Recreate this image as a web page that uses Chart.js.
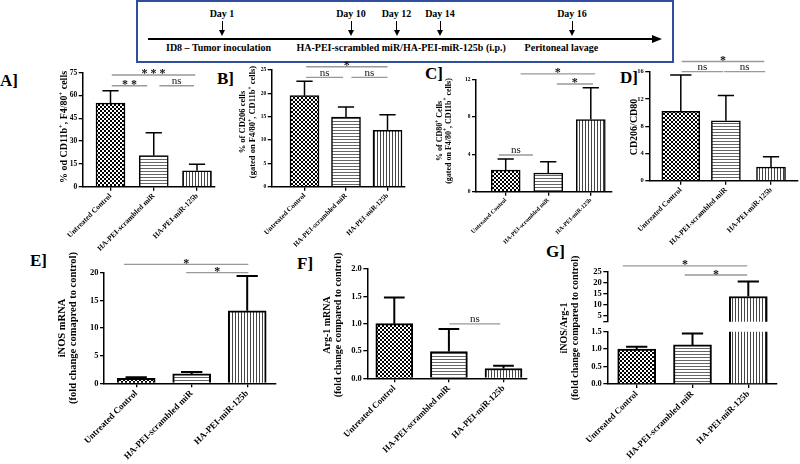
<!DOCTYPE html>
<html><head><meta charset="utf-8">
<script src="https://cdn.jsdelivr.net/npm/chart.js@4.4.1/dist/chart.umd.min.js"></script>
<style>
html,body{margin:0;padding:0;background:#fff;}
body{position:relative;width:800px;height:464px;overflow:hidden;font-family:"Liberation Serif","Times New Roman",serif;font-weight:bold;color:#000;}
canvas{position:absolute;}
.abs{position:absolute;white-space:nowrap;}
.letter{font-size:17px;line-height:17px;}
.tl{font-size:10px;line-height:12px;}
</style></head><body>
<script>
// ---------------- DATA ----------------
const categories = ["Untreated Control", "HA-PEI-scrambled miR", "HA-PEI-miR-125b"];

const aValues = [55.0, 20.5, 10.5];
const aErrors = [8.2, 15.0, 4.2];
const aTicks  = [0, 15, 30, 45, 60, 75];

const bValues = [19.5, 14.9, 12.1];
const bErrors = [3.1, 2.2, 3.3];
const bTicks  = [0, 5, 10, 15, 20, 25];

const cValues = [2.3, 2.0, 7.7];
const cErrors = [1.2, 1.2, 3.4];
const cTicks  = [0, 4, 8, 12];

const dValues = [10.2, 8.8, 2.0];
const dErrors = [5.3, 3.7, 1.5];
const dTicks  = [0, 4, 8, 12, 16];

const eValues = [0.9, 1.7, 13.1];
const eErrors = [0.18, 0.35, 6.3];
const eTicks  = [0, 5, 10, 15, 20];

const fValues = [1.0, 0.49, 0.18];
const fErrors = [0.48, 0.41, 0.05];
const fTicks  = [0, 0.5, 1.0, 1.5, 2.0];

const gValues = [1.0, 1.12, 13.8];
const gErrors = [0.07, 0.33, 6.8];
const gLowerTicks = [0, 0.5, 1.0, 1.5];
const gUpperTicks = [5, 10, 15, 20, 25];

const timelineDays   = ["Day 1", "Day 10", "Day 12", "Day 14", "Day 16"];
const timelinePhases = ["ID8 \u2013 Tumor inoculation", "HA-PEI-scrambled miR/HA-PEI-miR-125b (i.p.)", "Peritoneal lavage"];

// ---------------- LAYOUT ----------------
const dayX = [222, 351, 396.5, 440, 572];
const phaseX = [166, 296.5, 524.6];

function addDiv(cls, text, style) {
  const d = document.createElement('div');
  d.className = 'abs ' + cls; d.textContent = text;
  Object.assign(d.style, style); document.body.appendChild(d); return d;
}
// timeline box
addDiv('', '', {left:'136px', top:'0px', width:'538px', height:'63px', boxSizing:'border-box', border:'2px solid #2f4e9e'});
const tlY = 38.5;
addDiv('', '', {left:'148px', top:(tlY-1)+'px', width:'506px', height:'2px', background:'#000'});
addDiv('', '', {left:'652px', top:(tlY-4)+'px', width:'0', height:'0', borderLeft:'10px solid #000', borderTop:'4px solid transparent', borderBottom:'4px solid transparent'});
timelineDays.forEach((t, i) => {
  const x = dayX[i];
  addDiv('tl', t, {left:x+'px', top:'8px', transform:'translateX(-50%)'});
  addDiv('', '', {left:(x-0.5)+'px', top:'21px', width:'1px', height:'10px', background:'#000'});
  addDiv('', '', {left:(x-3)+'px', top:'30px', width:'0', height:'0', borderTop:'6px solid #000', borderLeft:'3px solid transparent', borderRight:'3px solid transparent'});
});
timelinePhases.forEach((t, i) => addDiv('tl', t, {left:phaseX[i]+'px', top:'42px'}));

// panel letters
[["A]",0,72],["B]",217,70],["C]",425,65],["D]",620,69],["E]",30,252],["F]",297,255],["G]",546,243]]
  .forEach(([t,x,y]) => addDiv('letter', t, {left:x+'px', top:y+'px'}));

// patterns
const patterns = (() => {
  const mk = (w, h, draw) => {
    const t = document.createElement('canvas'); t.width = w; t.height = h;
    const c = t.getContext('2d'); c.fillStyle = '#fff'; c.fillRect(0,0,w,h); draw(c);
    return c.createPattern(t, 'repeat');
  };
  return [
    mk(4,4,c=>{c.fillStyle='#000'; c.fillRect(0,0,2,2); c.fillRect(2,2,2,2);}),
    mk(4,3,c=>{c.fillStyle='#666'; c.fillRect(0,0,4,1);}),
    mk(3,4,c=>{c.fillStyle='#444'; c.fillRect(0,0,1,4);})
  ];
})();

const FAM = '"Liberation Serif", "Times New Roman", serif';

function drawRich(ctx, text, x, y, size) {
  const segs = [];
  text.split(/(\{[^}]*\})/).forEach(t => {
    if (!t) return;
    if (t[0] === '{') segs.push({t:t.slice(1,-1), sup:true}); else segs.push({t, sup:false});
  });
  const f = s => `bold ${s}px ${FAM}`;
  let total = 0;
  segs.forEach(s => { ctx.font = f(s.sup ? size*0.65 : size); s.w = ctx.measureText(s.t).width; total += s.w; });
  ctx.save(); ctx.translate(x, y); ctx.rotate(-Math.PI/2);
  ctx.textBaseline = 'middle'; ctx.textAlign = 'left'; ctx.fillStyle = '#000';
  let cur = -total/2;
  segs.forEach(s => { ctx.font = f(s.sup ? size*0.65 : size); ctx.fillText(s.t, cur, s.sup ? -size*0.3 : 0); cur += s.w; });
  ctx.restore();
}

const errorBars = {
  id: 'errorBars',
  afterDatasetsDraw(chart) {
    const {ctx, chartArea:a} = chart; const y = chart.scales.y;
    ctx.save();
    ctx.beginPath(); ctx.rect(a.left, a.top - 1, a.right - a.left, a.bottom - a.top + 1); ctx.clip();
    ctx.strokeStyle = '#000';
    chart.data.datasets.forEach((ds, di) => {
      const bar = chart.getDatasetMeta(di).data[0]; if (!bar) return;
      const v = ds.data[0].y, e = ds.err;
      const y0 = y.getPixelForValue(v), y1 = y.getPixelForValue(v + e);
      const hw = bar.width * 0.28;
      ctx.lineWidth = ds.borderWidth;
      ctx.beginPath(); ctx.moveTo(bar.x, y0); ctx.lineTo(bar.x, y1);
      ctx.moveTo(bar.x - hw, y1); ctx.lineTo(bar.x + hw, y1); ctx.stroke();
    });
    ctx.restore();
  }
};

function makeAnnot(p) {
  return {
    id: 'annot',
    afterDraw(chart) {
      const ctx = chart.ctx, xs = chart.scales.x, ys = chart.scales.y;
      const [cx, cy] = p.canvas;
      ctx.save();
      (p.sig || []).forEach(s => {
        const x1 = xs.getPixelForValue(s.x1), x2 = xs.getPixelForValue(s.x2), yy = ys.getPixelForValue(s.y);
        ctx.strokeStyle = '#999'; ctx.lineWidth = 1.3;
        ctx.beginPath(); ctx.moveTo(x1, yy); ctx.lineTo(x2, yy); ctx.stroke();
        const star = s.text.includes('*');
        ctx.font = star ? `bold 12px ${FAM}` : `11px ${FAM}`;
        ctx.fillStyle = '#111'; ctx.textAlign = 'center'; ctx.textBaseline = 'alphabetic';
        ctx.fillText(s.text, (x1 + x2)/2, star ? yy + 2.5 : yy - 1.5);
      });
      if (p.title) p.title.lines.forEach((t, i) => drawRich(ctx, t, p.title.x[i] - cx, p.title.cy - cy, p.title.size));
      ctx.restore();
    }
  };
}

function makeChart(p) {
  const [cx, cy, cw, ch] = p.canvas;
  const [L, T, R, B] = p.area;
  const cv = document.createElement('canvas');
  cv.width = cw; cv.height = ch;
  Object.assign(cv.style, {left:cx+'px', top:cy+'px', width:cw+'px', height:ch+'px'});
  document.body.appendChild(cv);
  const s = (p.c2 - p.c0) / 2;
  const xmin = -(p.c0 - L) / s, xmax = 2 + (R - p.c2) / s;
  const font = sz => ({family: FAM, size: sz, weight: 'bold'});
  const datasets = p.values.map((v, i) => ({
    data: [{x: i, y: v}], err: p.errors[i],
    backgroundColor: patterns[i], borderColor: '#000', borderWidth: p.bw,
    barThickness: Array.isArray(p.barW) ? p.barW[i] : p.barW,
    grouped: false, clip: 0, borderSkipped: 'start'
  }));
  const xScale = {
    type: 'linear', min: xmin, max: xmax, offset: false, display: !p.hideX,
    grid: {offset: false, drawOnChartArea: false, drawTicks: true, tickLength: 4, color: '#000', lineWidth: 1.3},
    border: {display: true, color: '#000', width: 1.5},
    ticks: {autoSkip: false, minRotation: 45, maxRotation: 45, padding: 1, color: '#000', font: font(p.xSize || 8),
            callback: v => categories[v] ?? ''},
    afterBuildTicks: sc => { sc.ticks = categories.map((c, i) => ({value: i})); }
  };
  if (!p.hideX) xScale.afterFit = sc => { sc.height = cy + ch - B; };
  return new Chart(cv, {
    type: 'bar',
    data: {datasets},
    options: {
      responsive: false, animation: false, devicePixelRatio: 1, events: [],
      layout: {padding: {left: 0, top: T - cy, right: cx + cw - R, bottom: p.hideX ? cy + ch - B : 0}},
      plugins: {legend: {display: false}, tooltip: {enabled: false}},
      scales: {
        x: xScale,
        y: {
          type: 'linear', min: p.ymin || 0, max: p.ymax,
          grid: {drawOnChartArea: false, drawTicks: true, tickLength: 4, color: '#000', lineWidth: 1.3},
          border: {display: true, color: '#000', width: 1.5},
          ticks: {autoSkip: false, color: '#000', padding: 1.5, font: font(p.tickSize),
                  callback: v => p.ticks.includes(v) ? v.toFixed(p.dec || 0) : ''},
          afterBuildTicks: sc => { sc.ticks = (p.ymin ? [{value: p.ymin}] : []).concat(p.ticks.map(v => ({value: v}))); },
          afterFit: sc => { sc.width = L - cx; }
        }
      }
    },
    plugins: [errorBars, makeAnnot(p)]
  });
}

const panels = [
  {values:aValues, errors:aErrors, ticks:aTicks, ymax:75, canvas:[18,60,205,200], area:[82.7,72.7,215,186.7],
   c0:110.5, c2:197, barW:29, bw:1.5, tickSize:7.5, xSize:7.5,
   title:{lines:["% od CD11b{+}, F4/80{+} cells"], x:[64], cy:127, size:10},
   sig:[{x1:0.03,x2:1.96,y:73.5,text:'* * *'},{x1:0.03,x2:0.85,y:66.4,text:'* *'},{x1:1.13,x2:1.93,y:66.4,text:'ns'}]},
  {values:bValues, errors:bErrors, ticks:bTicks, ymax:25, canvas:[215,55,200,205], area:[271.7,70,405,186.7],
   c0:304.5, c2:387.5, barW:29, bw:1.5, tickSize:5.5, xSize:7,
   title:{lines:["% of CD206 cells","(gated on F4/80{+}, CD11b{+} cells)"], x:[242.5,253], cy:122, size:8.5},
   sig:[{x1:0.04,x2:2.0,y:25.7,text:'*'},{x1:0.04,x2:0.93,y:23.4,text:'ns'},{x1:1.13,x2:2.0,y:23.4,text:'ns'}]},
  {values:cValues, errors:cErrors, ticks:cTicks, ymax:12, canvas:[420,55,200,205], area:[476,79.3,612,191.7],
   c0:505.7, c2:590.8, barW:29, bw:1.5, tickSize:5.5, xSize:6,
   title:{lines:["% of CD80{+} Cells","(gated on F4/80{+}, CD11b{+} cells)"], x:[440,448.5], cy:131, size:8},
   sig:[{x1:0.35,x2:2.1,y:12.58,text:'*'},{x1:1.2,x2:2.05,y:11.5,text:'*'},{x1:-0.16,x2:0.64,y:3.92,text:'ns'}]},
  {values:dValues, errors:dErrors, ticks:dTicks, ymax:16, canvas:[615,45,185,210], area:[649.3,71.7,798,180.7],
   c0:680.8, c2:771, barW:[38,29,29], bw:1.5, tickSize:6.5, xSize:7.5,
   title:{lines:["CD206/CD80"], x:[634], cy:127, size:10},
   sig:[{x1:0.02,x2:1.85,y:17.5,text:'*'},{x1:0.02,x2:0.94,y:16,text:'ns'},{x1:0.96,x2:1.87,y:16,text:'ns'}]},
  {values:eValues, errors:eErrors, ticks:eTicks, ymax:20, canvas:[25,245,260,219], area:[104,272.7,276,383.3],
   c0:136.2, c2:247.2, barW:38, bw:2, tickSize:8.5, xSize:9,
   title:{lines:["iNOS mRNA","(fold change comapred to control)"], x:[62.5,73.5], cy:328, size:10.5},
   sig:[{x1:-0.22,x2:2.02,y:21.5,text:'*'},{x1:0.9,x2:2.02,y:20,text:'*'}]},
  {values:fValues, errors:fErrors, ticks:fTicks, dec:1, ymax:2, canvas:[290,245,245,219], area:[367.3,269,526.7,378.3],
   c0:394.3, c2:503.5, barW:37, bw:2, tickSize:8.5, xSize:8.8,
   title:{lines:["Arg-1 mRNA","(fold change compared to control)"], x:[327.5,338], cy:325, size:10},
   sig:[{x1:1.01,x2:1.94,y:0.995,text:'ns'}]},
  {values:gValues, errors:gErrors, ticks:gLowerTicks, dec:1, ymax:1.5, canvas:[540,240,260,224], area:[607.3,331.7,776.7,384],
   c0:636.7, c2:748.3, barW:38, bw:2, tickSize:8.5, xSize:8.8},
  {values:gValues, errors:gErrors, ticks:gUpperTicks, ymin:2.4, ymax:25, hideX:true, canvas:[540,240,260,224], area:[607.3,271.7,776.7,321.7],
   c0:636.7, c2:748.3, barW:38, bw:2, tickSize:8.5, xSize:8.8,
   title:{lines:["iNOS/Arg-1","(fold change compared to control)"], x:[564,575], cy:328, size:10},
   sig:[{x1:-0.25,x2:1.98,y:27.6,text:'*'},{x1:0.86,x2:1.98,y:23.5,text:'*'}]}
];
panels.forEach(makeChart);
</script>
</body></html>
